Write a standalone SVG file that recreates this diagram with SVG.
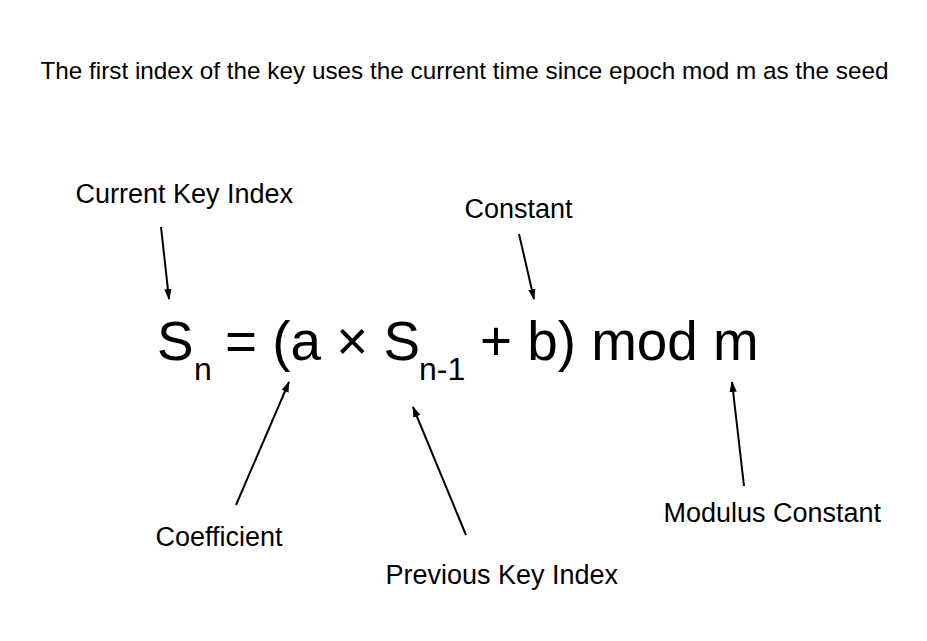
<svg xmlns="http://www.w3.org/2000/svg" width="927" height="641" viewBox="0 0 927 641">
<defs>
<marker id="ah" viewBox="0 0 11 10" refX="10" refY="5" markerWidth="11" markerHeight="10" markerUnits="userSpaceOnUse" orient="auto">
<path d="M0,1.3 L11,5 L0,8.7 Z" fill="#000"/>
</marker>
<style>
text{font-family:"Liberation Sans",Arial,sans-serif;fill:#000}
.lbl{font-size:27px}
.f{font-size:54.8px}
.s{font-size:32px}
.c{stroke:#000;stroke-width:2;fill:none;marker-end:url(#ah)}
</style>
</defs>
<rect width="927" height="641" fill="#fff"/>
<g id="title"><text x="464.5" y="79" text-anchor="middle" style="font-size:24.3px">The first index of the key uses the current time since epoch mod m as the seed</text></g>
<g id="formula">
<text class="f" x="157" y="360">S</text>
<text class="s" x="194" y="380">n</text>
<text class="f" x="225" y="360">= (a × S</text>
<text class="s" x="419" y="380">n-1</text>
<text class="f" x="480" y="360">+ b) mod m</text>
</g>
<g id="current-key-index"><text class="lbl" x="75.5" y="203">Current Key Index</text></g>
<g id="constant"><text class="lbl" x="464.5" y="218">Constant</text></g>
<g id="coefficient"><text class="lbl" x="155.5" y="546">Coefficient</text></g>
<g id="previous-key-index"><text class="lbl" x="385.5" y="584">Previous Key Index</text></g>
<g id="modulus-constant"><text class="lbl" x="663.5" y="522">Modulus Constant</text></g>
<g id="connectors">
<line class="c" x1="161" y1="227" x2="169" y2="299"/>
<line class="c" x1="519" y1="234" x2="534" y2="299"/>
<line class="c" x1="236" y1="505" x2="289" y2="382"/>
<line class="c" x1="466" y1="535" x2="413" y2="407"/>
<line class="c" x1="744" y1="486" x2="732" y2="382"/>
</g>
</svg>
